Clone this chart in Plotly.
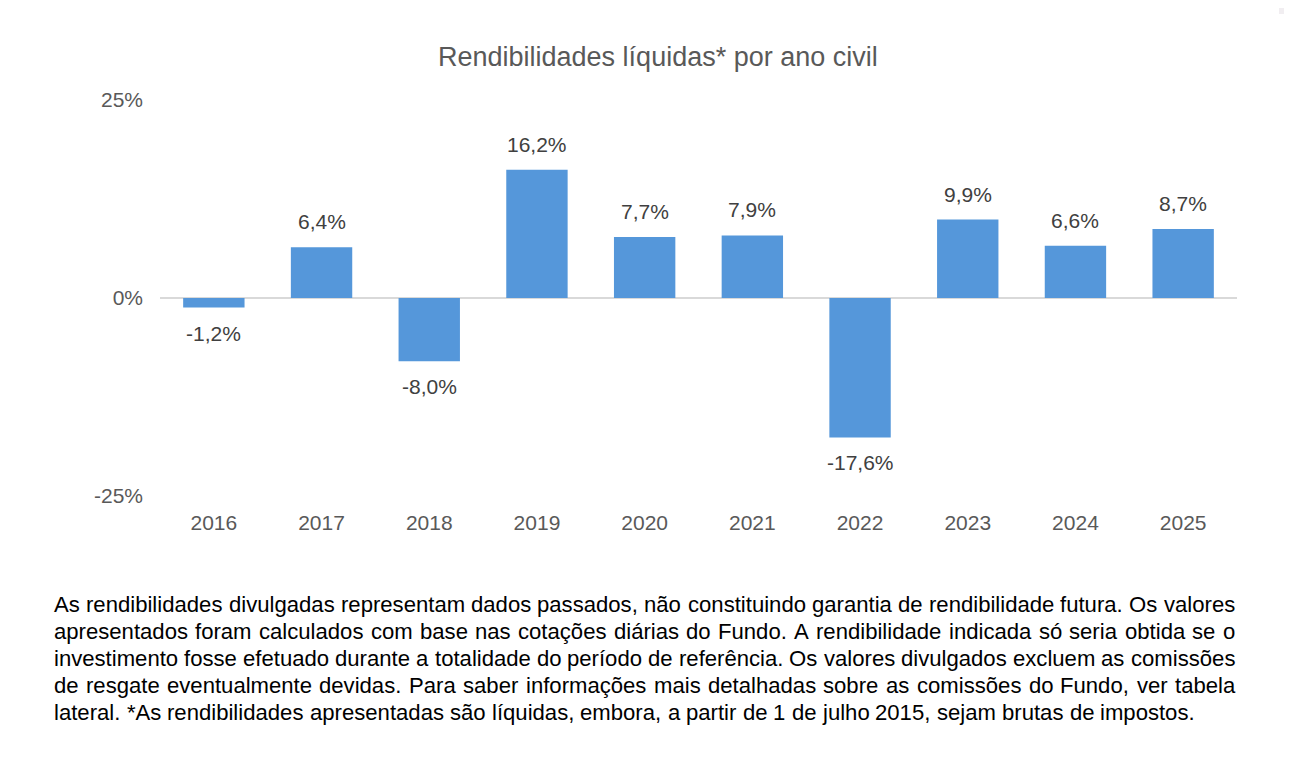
import plotly.graph_objects as go

# dados do gráfico
anos = ['2016', '2017', '2018', '2019', '2020', '2021', '2022', '2023', '2024', '2025']
rendibilidades = [-1.2, 6.4, -8.0, 16.2, 7.7, 7.9, -17.6, 9.9, 6.6, 8.7]
y_ticks = [-25, 0, 25]
y_tick_labels = ['-25%', '0%', '25%']

titulo = 'Rendibilidades líquidas* por ano civil'
nota_linhas = [
    'As rendibilidades divulgadas representam dados passados, não constituindo garantia de rendibilidade futura. Os valores',
    'apresentados foram calculados com base nas cotações diárias do Fundo. A rendibilidade indicada só seria obtida se o',
    'investimento fosse efetuado durante a totalidade do período de referência. Os valores divulgados excluem as comissões',
    'de resgate eventualmente devidas. Para saber informações mais detalhadas sobre as comissões do Fundo, ver tabela',
    'lateral. *As rendibilidades apresentadas são líquidas, embora, a partir de 1 de julho 2015, sejam brutas de impostos.',
]

# a página desenha a figura 8px abaixo/à direita do canto
OFF = 8
W, H = 1292 - 2 * OFF, 758 - 2 * OFF
L, T = 160 - OFF, 100 - OFF
pw, ph = 1077, 396
R, B = W - L - pw, H - T - ph


def px_x(x):
    return (x - OFF - L) / pw


def px_y(y):
    return (T + ph - (y - OFF)) / ph


# larguras Arial (unidades /1000) para justificar o texto
larg = dict(zip('abcdefghijklmnopqrstuvwxyz',
                [556, 556, 500, 556, 556, 278, 556, 556, 222, 222, 500, 222, 833,
                 556, 556, 556, 556, 333, 500, 278, 556, 500, 722, 500, 500, 500]))
larg.update({'á': 556, 'ã': 556, 'é': 556, 'ê': 556, 'ó': 556, 'õ': 556, 'ç': 500,
             'í': 278, 'A': 667, 'F': 611, 'O': 778, 'P': 667, '.': 278, ',': 278,
             '*': 389, ' ': 278})
for d in '0123456789':
    larg[d] = 556


def largura(s):
    return sum(larg.get(c, 556) for c in s) / 1000


x0_nota, x1_nota = 53, 1234
fs_nota = (1194 - x0_nota) / largura(nota_linhas[-1])

fig = go.Figure()
fig.add_trace(go.Bar(
    x=anos, y=rendibilidades,
    marker=dict(color='#5597da', line=dict(width=0)),
    hoverinfo='x+y',
))

anots = []
# num eixo de categorias as anotações usam o índice da categoria
for i, v in enumerate(rendibilidades):
    anots.append(dict(
        x=i, y=v, xref='x', yref='y',
        text=f'{v:.1f}%'.replace('.', ','),
        showarrow=False,
        yanchor='bottom' if v >= 0 else 'top',
        yshift=12 if v >= 0 else -12,
        font=dict(family='Liberation Sans, Arial', size=21, color='#404040'),
    ))

anots.append(dict(
    x=px_x(658), y=px_y(57), xref='paper', yref='paper',
    text=titulo, showarrow=False, xanchor='center', yanchor='middle',
    font=dict(family='Liberation Sans, Arial', size=27, color='#595959'),
))

# nota de rodapé justificada palavra a palavra
y_linha = [604, 631, 658, 685, 712]
for i, linha in enumerate(nota_linhas):
    palavras = linha.split(' ')
    if i < len(nota_linhas) - 1:
        total = sum(largura(p) for p in palavras) * fs_nota
        gap = (x1_nota - x0_nota - total) / (len(palavras) - 1)
    else:
        gap = largura(' ') * fs_nota
    xp = x0_nota
    for p in palavras:
        anots.append(dict(
            x=px_x(xp), y=px_y(y_linha[i]), xref='paper', yref='paper',
            text=p, showarrow=False, xanchor='left', yanchor='middle',
            borderpad=0,
            font=dict(family='Liberation Sans, Arial', size=fs_nota, color='#000000'),
        ))
        xp += largura(p) * fs_nota + gap

fig.update_layout(
    width=W, height=H,
    margin=dict(l=L, r=R, t=T, b=B),
    paper_bgcolor='white', plot_bgcolor='white',
    bargap=0.43,
    showlegend=False,
    annotations=anots,
    shapes=[dict(type='rect', xref='paper', yref='paper',
                 x0=px_x(1279), x1=px_x(1284), y0=px_y(14), y1=px_y(8),
                 fillcolor='#f1eef1', line=dict(width=0), layer='below')],
    xaxis=dict(
        type='category',
        showgrid=False, zeroline=False, showline=False, ticks='',
        ticklabelstandoff=12,
        tickfont=dict(family='Liberation Sans, Arial', size=21, color='#595959'),
    ),
    yaxis=dict(
        range=[-25, 25], tickvals=y_ticks, ticktext=y_tick_labels,
        showgrid=True, gridcolor='#d9d9d9', gridwidth=1.5,
        zeroline=True, zerolinecolor='#d9d9d9', zerolinewidth=1.5,
        showline=False, ticks='', ticklabelstandoff=16,
        tickfont=dict(family='Liberation Sans, Arial', size=21, color='#595959'),
    ),
)

fig.write_html('out.html')
